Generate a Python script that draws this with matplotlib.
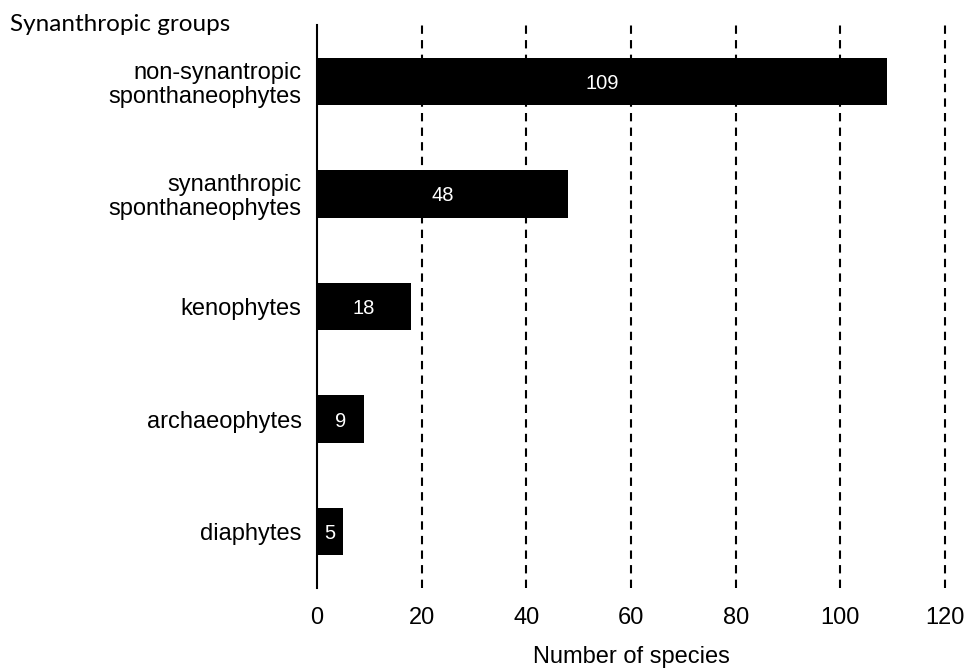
import numpy as np
import matplotlib.pyplot as plt

# Synanthropic groups and number of species
groups = ["non-synantropic\nsponthaneophytes", "synanthropic\nsponthaneophytes",
          "kenophytes", "archaeophytes", "diaphytes"]
species = [109, 48, 18, 9, 5]
xticks = [0, 20, 40, 60, 80, 100, 120]

plt.rcParams['font.family'] = ['Liberation Sans', 'DejaVu Sans']

fig = plt.figure(figsize=(9.65, 6.71), dpi=100)
ax = fig.add_axes([0.3285, 0.1237, 0.6508, 0.839])

y = np.arange(len(groups))
bars = ax.barh(y, species, height=0.42, color="black", zorder=3)

for b, v in zip(bars, species):
    ax.text(v / 2, b.get_y() + b.get_height() / 2, str(v), color="white",
            ha="center", va="center_baseline", fontsize=14.5, zorder=4)

ax.set_ylim(len(groups) - 0.5, -0.5)
ax.set_xlim(0, 120)
ax.set_xticks(xticks)
ax.set_yticks(y)
ax.set_yticklabels(groups, fontsize=17, linespacing=1.1)
ax.tick_params(axis="x", labelsize=17, length=0, pad=14)
ax.tick_params(axis="y", length=0, pad=11)

for s in ["top", "right", "bottom"]:
    ax.spines[s].set_visible(False)
ax.spines["left"].set_linewidth(1.5)
ax.spines["left"].set_zorder(5)

for t in xticks[1:]:
    ax.axvline(t, color="black", linestyle=(0, (4, 3)), linewidth=1.5,
               zorder=1, clip_on=False)

ax.set_xlabel("Number of species", fontsize=17, labelpad=12)
fig.text(0.0104, 0.964, "Synanthropic groups", fontsize=17.5, family="Lato",
         ha="left", va="center")

fig.savefig("out.png", dpi=100)
